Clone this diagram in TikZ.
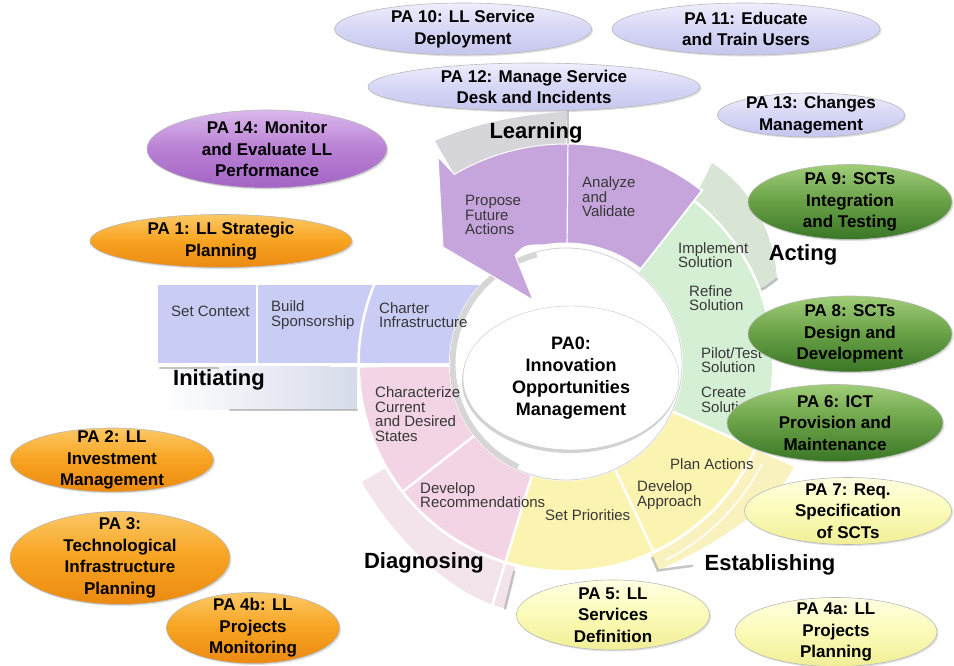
\documentclass[tikz,border=0pt]{standalone}
\usepackage{fontspec}
\setmainfont{Liberation Sans}
\usetikzlibrary{calc,shapes.geometric,shadows}

\definecolor{initblue}{RGB}{201,205,245}
\definecolor{initband}{RGB}{214,219,234}
\definecolor{learnpurple}{RGB}{197,165,220}
\definecolor{learnband}{RGB}{214,214,218}
\definecolor{actgreen}{RGB}{213,239,213}
\definecolor{actband}{RGB}{216,228,212}
\definecolor{estyellow}{RGB}{251,243,176}
\definecolor{estband}{RGB}{250,242,190}
\definecolor{diagpink}{RGB}{242,212,228}
\definecolor{diagband}{RGB}{243,228,236}
\definecolor{lavtop}{RGB}{238,238,253}
\definecolor{lavmid}{RGB}{214,214,246}
\definecolor{lavbot}{RGB}{198,198,238}
\definecolor{purptop}{RGB}{218,185,236}
\definecolor{purpmid}{RGB}{185,128,212}
\definecolor{purpbot}{RGB}{163,100,196}
\definecolor{orgtop}{RGB}{252,200,100}
\definecolor{orgmid}{RGB}{247,163,32}
\definecolor{orgbot}{RGB}{236,138,18}
\definecolor{grntop}{RGB}{160,205,120}
\definecolor{grnmid}{RGB}{104,160,70}
\definecolor{grnbot}{RGB}{58,118,38}
\definecolor{ylwtop}{RGB}{255,255,226}
\definecolor{ylwmid}{RGB}{251,251,184}
\definecolor{ylwbot}{RGB}{240,238,150}

\tikzset{
	ideal/.style={x=1pt,y=1pt},
	pa/.style={ellipse,draw=gray!55,line width=0.6pt,inner sep=0pt,
		drop shadow={opacity=.25,shadow xshift=1.5pt,shadow yshift=-1.5pt}},
	pa orange/.style={pa,top color=orgtop,bottom color=orgbot,middle color=orgmid},
	pa green/.style={pa,top color=grntop,bottom color=grnbot,middle color=grnmid},
	pa lavender/.style={pa,top color=lavtop,bottom color=lavbot,middle color=lavmid},
	pa yellow/.style={pa,top color=ylwtop,bottom color=ylwbot,middle color=ylwmid},
	pa purple/.style={pa,top color=purptop,bottom color=purpbot,middle color=purpmid},
	pa text/.style={font=\bfseries\fontsize{17}{21.5}\selectfont,align=center,inner sep=0pt},
	activity/.style={font=\fontsize{15}{14.5}\selectfont,align=left,anchor=west,
		inner sep=0pt,text=black!78},
	phase/.style={font=\bfseries\fontsize{22}{24}\selectfont,inner sep=0pt},
	sep/.style={white,line width=2.5pt},
	shade line/.style={gray!65,line width=2.5pt,opacity=.7,line cap=round}
}

\begin{document}
\begin{tikzpicture}[ideal]
	\useasboundingbox (0,0) rectangle (954,666);
	\coordinate (c) at (566,302);
	
	% raised faces of the phases
	\fill[learnband] (435,525) -- ($(c)+(120.5:220)$) arc[start angle=120.5,end angle=90,radius=220]
		-- (567,554) .. controls (520,552) and (470,541) .. (435,525) -- cycle;
	\draw[shade line] (568,557) -- (568,521);
	\fill[actband] ($(c)+(52:206)$) -- (712,503) .. controls (752,478) and (774,432) .. (777,387)
		-- (765,378) -- ($(c)+(20:206)$) arc[start angle=20,end angle=52,radius=206] -- cycle;
	\draw[shade line] (777,387) -- (765,378) -- (738,369);
	\fill[estband] ($(c)+(-24:209)$) -- ($(c)+(-24:250)$) .. controls (774,155) and (704,116) .. ($(c)+(-66:226)$)
		-- ($(c)+(-66:209)$) arc[start angle=-66,end angle=-24,radius=209] -- cycle;
	\draw[white,line width=1.5pt] ($(c)+(-27:220)$) arc[start angle=-27,end angle=-63,radius=220];
	\draw[shade line] ($(c)+(-66:212)$) -- ($(c)+(-66:226)$) -- ($(c)+(-58:238)$);
	\fill[diagband] ($(c)+(-104:209)$) -- ($(c)+(-104:252)$) .. controls (447,72) and (392,132) .. ($(c)+(-150:236)$)
		-- ($(c)+(-150:209)$) arc[start angle=-150,end angle=-104,radius=209] -- cycle;
	\draw[shade line] ($(c)+(-104:214)$) -- ($(c)+(-104:252)$);
	\fill[left color=white,right color=initband] (160,256) rectangle (357,299);
	\draw[shade line] (230,256) -- (357,256);
	\draw[shade line] (160,298) -- (218,298);
	
	% the cycle
	\fill[diagpink] (c) -- ($(c)+(181:206)$) arc[start angle=181,end angle=253,radius=206] -- cycle;
	\fill[estyellow] (c) -- ($(c)+(253:206)$) arc[start angle=253,end angle=336,radius=206] -- cycle;
	\fill[actgreen] (c) -- ($(c)+(-24:206)$) arc[start angle=-24,end angle=52,radius=206] -- cycle;
	\fill[initblue] (158,303) rectangle (520,381);
	\draw[sep] (c) circle[radius=207.5];
	\draw[sep] ($(c)+(52:100)$) -- ($(c)+(52:222)$);
	\draw[sep] ($(c)+(-24:100)$) -- ($(c)+(-24:252)$);
	\draw[sep] ($(c)+(-65:100)$) -- ($(c)+(-65:206)$);
	\draw[sep] ($(c)+(253:100)$) -- ($(c)+(253:254)$);
	\draw[sep] ($(c)+(218:100)$) -- ($(c)+(218:206)$);
	\draw[sep,line width=4pt] (330,301) -- (566,301);
	\draw[sep] (257,303) -- (257,381);
	
	% hole in the middle
	\fill[white] (c) circle[radius=117];
	\draw[gray!35,line width=0.8pt] (c) circle[radius=116];
	\draw[gray!70,line width=5pt,opacity=.45] ($(c)+(105:113)$) arc[start angle=105,end angle=245,radius=113];
	
	% learning arrow
	\fill[learnpurple,draw=white,line width=1pt] ($(c)+(52:220)$) arc[start angle=52,end angle=120.5,radius=220]
		-- (438,509) -- (443,419) -- (533,366) -- (515,411) .. controls (525,421) .. ($(c)+(100:121)$)
		arc[start angle=100,end angle=52,radius=121] -- cycle;
	\draw[white,line width=1.2pt] ($(c)+(89.5:121)$) -- ($(c)+(89.5:220)$);
	
	\node[ellipse,fill=white,draw=gray!45,minimum width=216,minimum height=144,inner sep=1pt,
		drop shadow={opacity=.35,shadow xshift=-1pt,shadow yshift=-3pt},
		font=\bfseries\fontsize{18}{22}\selectfont,align=center] (pa0) at (571,288)
		{PA0:\\Innovation\\Opportunities\\Management};
	
	% steps of each phase
	\node[activity] (setctx) at (171,355) {Set Context};
	\node[activity] (sponsor) at (271,351) {Build\\Sponsorship};
	\node[activity] (charter) at (379,351) {Charter\\Infrastructure};
	\node[activity] (states) at (375,252) {Characterize\\Current\\and Desired\\States};
	\node[activity] (recomm) at (420,171) {Develop\\Recommendations};
	\node[activity] (prior) at (545,151) {Set Priorities};
	\node[activity] (approach) at (637,171) {Develop\\Approach};
	\node[activity] (plan) at (670,202) {Plan Actions};
	\node[activity] (create) at (701,266) {Create\\Solution};
	\node[activity] (pilot) at (701,306) {Pilot/Test\\Solution};
	\node[activity] (refine) at (689,368) {Refine\\Solution};
	\node[activity] (implement) at (678,411) {Implement\\Solution};
	\node[activity] (analyze) at (582,469) {Analyze\\and\\Validate};
	\node[activity] (propose) at (465,451) {Propose\\Future\\Actions};
	
	% phase names
	\node[phase] (learning) at (536,533) {Learning};
	\node[phase] (acting) at (803,411) {Acting};
	\node[phase] (initiating) at (219,286) {Initiating};
	\node[phase] (diagnosing) at (424,103) {Diagnosing};
	\node[phase] (establishing) at (770,101) {Establishing};
	
	% process areas
	\node[pa lavender,minimum width=257,minimum height=52] (pa10) at (463,637) {};
	\node[pa text] (pa10 txt) at (pa10) {PA 10: LL Service\\Deployment};
	\node[pa lavender,minimum width=268,minimum height=52] (pa11) at (746,637) {};
	\node[pa text] (pa11 txt) at (pa11) {PA 11: Educate\\and Train Users};
	\node[pa lavender,minimum width=332,minimum height=48] (pa12) at (534,579) {};
	\node[pa text] (pa12 txt) at (pa12) {PA 12: Manage Service\\Desk and Incidents};
	\node[pa lavender,minimum width=187,minimum height=44] (pa13) at (811,551) {};
	\node[pa text] (pa13 txt) at (pa13) {PA 13: Changes\\Management};
	\node[pa purple,minimum width=240,minimum height=78] (pa14) at (267,517) {};
	\node[pa text] (pa14 txt) at (pa14) {PA 14: Monitor\\and Evaluate LL\\Performance};
	\node[pa orange,minimum width=262,minimum height=53] (pa1) at (221,425) {};
	\node[pa text] (pa1 txt) at (pa1) {PA 1: LL Strategic\\Planning};
	\node[pa orange,minimum width=203,minimum height=64] (pa2) at (112,206) {};
	\node[pa text] (pa2 txt) at (pa2) {PA 2: LL\\Investment\\Management};
	\node[pa orange,minimum width=220,minimum height=93] (pa3) at (120,108) {};
	\node[pa text] (pa3 txt) at (pa3) {PA 3:\\Technological\\Infrastructure\\Planning};
	\node[pa orange,minimum width=173,minimum height=71] (pa4b) at (253,38) {};
	\node[pa text] (pa4b txt) at (pa4b) {PA 4b: LL\\Projects\\Monitoring};
	\node[pa green,minimum width=204,minimum height=75] (pa9) at (850,464) {};
	\node[pa text] (pa9 txt) at (pa9) {PA 9: SCTs\\Integration\\and Testing};
	\node[pa green,minimum width=204,minimum height=76] (pa8) at (850,332) {};
	\node[pa text] (pa8 txt) at (pa8) {PA 8: SCTs\\Design and\\Development};
	\node[pa green,minimum width=216,minimum height=77] (pa6) at (835,243) {};
	\node[pa text] (pa6 txt) at (pa6) {PA 6: ICT\\Provision and\\Maintenance};
	\node[pa yellow,minimum width=207,minimum height=67] (pa7) at (848,155) {};
	\node[pa text] (pa7 txt) at (pa7) {PA 7: Req.\\Specification\\of SCTs};
	\node[pa yellow,minimum width=193,minimum height=70] (pa5) at (613,51) {};
	\node[pa text] (pa5 txt) at (pa5) {PA 5: LL\\Services\\Definition};
	\node[pa yellow,minimum width=202,minimum height=69] (pa4a) at (836,34) {};
	\node[pa text] (pa4a txt) at (pa4a) {PA 4a: LL\\Projects\\Planning};
\end{tikzpicture}
\end{document}
